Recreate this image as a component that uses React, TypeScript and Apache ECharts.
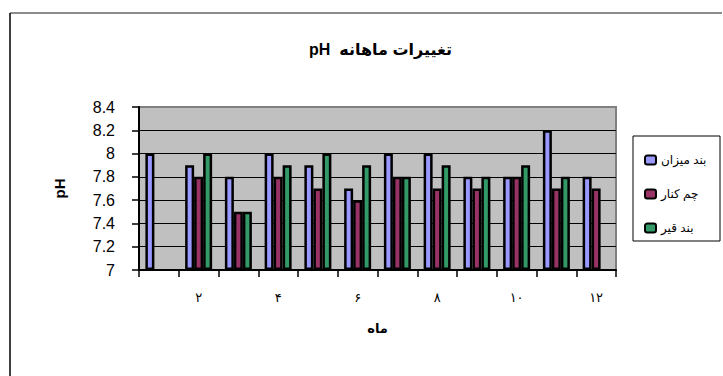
import React, { useEffect, useRef } from "react";
import * as echarts from "echarts";

// Months 1..12 written with Persian digits
const months = ["۱", "۲", "۳", "۴", "۵", "۶", "۷", "۸", "۹", "۱۰", "۱۱", "۱۲"];
const seriesNames = ["بند میزان", "چم کنار", "بند قیر"];
const bandMizan = [8.0, 7.9, 7.8, 8.0, 7.9, 7.7, 8.0, 8.0, 7.8, 7.8, 8.2, 7.8];
const chamKenar = [null, 7.8, 7.5, 7.8, 7.7, 7.6, 7.8, 7.7, 7.7, 7.8, 7.7, 7.7];
const bandGhir = [null, 8.0, 7.5, 7.9, 8.0, 7.9, 7.8, 7.9, 7.8, 7.9, 7.8, null];
const colors = ["#9999FF", "#993366", "#339966"];

const FONT = "'Liberation Sans', Arial, 'DejaVu Sans', sans-serif";

export default function App() {
  const ref = useRef<HTMLDivElement>(null);

  useEffect(() => {
    if (!ref.current) return;
    const chart = echarts.init(ref.current, undefined, { renderer: "svg" });
    const data = [bandMizan, chamKenar, bandGhir];

    chart.setOption({
      animation: false,
      backgroundColor: "#ffffff",
      title: {
        text: "pH  تغییرات ماهانه",
        left: 304,
        top: 36,
        textStyle: { fontFamily: FONT, fontWeight: "bold", fontSize: 16, color: "#000" },
      },
      legend: {
        orient: "vertical",
        left: 639,
        top: 148,
        itemWidth: 11,
        itemHeight: 9,
        itemGap: 20,
        itemStyle: { borderColor: "#000", borderWidth: 2 },
        textStyle: { fontFamily: FONT, fontSize: 12, color: "#000", lineHeight: 14 },
        data: seriesNames,
      },
      graphic: [
        { type: "line", shape: { x1: 10, y1: 13, x2: 722, y2: 13 }, style: { stroke: "#666", lineWidth: 1.5 } },
        { type: "line", shape: { x1: 10, y1: 13, x2: 10, y2: 376 }, style: { stroke: "#000", lineWidth: 1.5 } },
        {
          type: "rect",
          shape: { x: 633, y: 136, width: 87, height: 105 },
          style: { fill: "none", stroke: "#000", lineWidth: 1 },
          z: 10,
        },
      ],
      grid: {
        left: 139,
        top: 107,
        width: 477,
        height: 163,
        show: true,
        backgroundColor: "#C0C0C0",
        borderColor: "#808080",
        borderWidth: 2,
      },
      xAxis: {
        type: "category",
        data: months,
        name: "ماه",
        nameLocation: "middle",
        nameGap: 52,
        nameTextStyle: { fontFamily: FONT, fontWeight: "bold", fontSize: 13, color: "#000" },
        axisLine: { lineStyle: { color: "#000", width: 2 } },
        axisTick: { show: true, interval: 0, length: 7, lineStyle: { color: "#000", width: 1.5 } },
        axisLabel: {
          interval: (index: number) => index % 2 === 1,
          margin: 21,
          fontFamily: FONT,
          fontSize: 13,
          color: "#000",
        },
      },
      yAxis: {
        type: "value",
        min: 7,
        max: 8.4,
        interval: 0.2,
        startValue: 7,
        name: "pH",
        nameLocation: "middle",
        nameGap: 72,
        nameTextStyle: { fontFamily: FONT, fontWeight: "bold", fontSize: 15, color: "#000" },
        axisLine: { show: true, lineStyle: { color: "#000", width: 2 } },
        axisTick: { show: true, length: 7, lineStyle: { color: "#000", width: 1.5 } },
        axisLabel: {
          margin: 24,
          fontFamily: FONT,
          fontSize: 16,
          color: "#000",
          formatter: (v: number) => String(Number(v.toFixed(1))),
        },
        splitLine: {
          show: true,
          lineStyle: {
            color: ["#000", "#000", "#000", "#000", "#000", "#000", "#000", "#808080"],
            width: 1,
          },
        },
      },
      series: seriesNames.map((name, i) => ({
        name,
        type: "bar",
        data: data[i],
        barWidth: 9,
        barGap: "0%",
        itemStyle: { color: colors[i], borderColor: "#000", borderWidth: 2.5 },
      })),
    });

    return () => chart.dispose();
  }, []);

  return (
    <div
      ref={ref}
      style={{ position: "fixed", left: 0, top: 0, width: 723, height: 376 }}
    />
  );
}
